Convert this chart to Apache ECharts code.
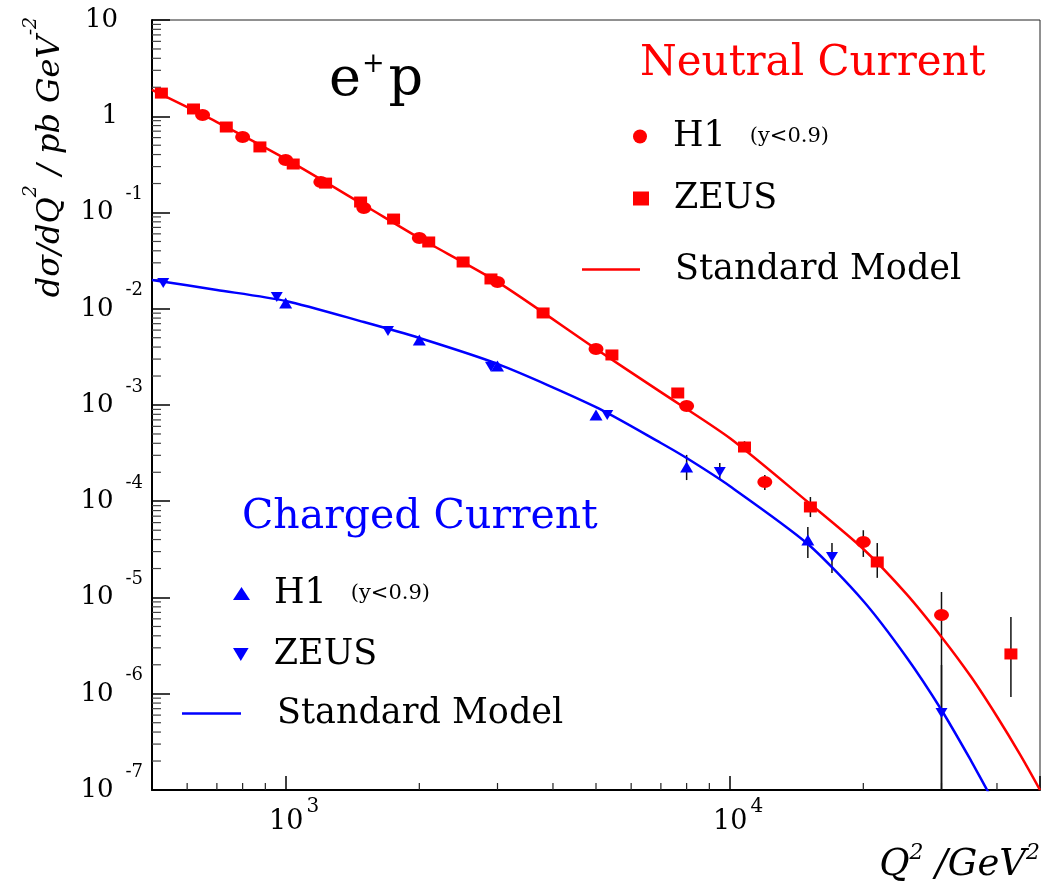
<!DOCTYPE html>
<html><head><meta charset="utf-8">
<script src="https://cdn.jsdelivr.net/npm/echarts@6/dist/echarts.min.js"></script>
<style>html,body{margin:0;padding:0;background:#fff}#chart{width:1044px;height:883px}</style>
</head><body><div id="chart"></div>
<script>
// ---------- axis ranges & tick labels ----------
const xMin = 500, xMax = 50000;
const yMin = 1e-7, yMax = 10;
const xTickExponents = [3, 4];
const yTickExponents = [1, 0, -1, -2, -3, -4, -5, -6, -7];

// ---------- Neutral Current (red) ----------
const ncH1Q2 = [650, 800, 1000, 1200, 1500, 2000, 3000, 5000, 8000, 12000, 20000, 30000];
const ncH1Val = [1.03, 0.609, 0.351, 0.2075, 0.1113, 0.0543, 0.01897, 0.00382, 9.77e-4, 1.585e-4, 3.77e-5, 6.58e-6];
const ncZeusQ2 = [525, 620, 735, 875, 1040, 1230, 1475, 1750, 2100, 2510, 2900, 3800, 5430, 7640, 10800, 15200, 21500, 43000];
const ncZeusVal = [1.74, 1.19, 0.773, 0.48, 0.319, 0.202, 0.1285, 0.0855, 0.0494, 0.0306, 0.0204, 0.00904, 0.00331, 0.001333, 3.66e-4, 8.72e-5, 2.34e-5, 2.59e-6];
const ncSmQ2 = [500, 700, 1000, 1500, 2000, 3000, 5000, 7000, 10000, 15000, 20000, 25000, 30000, 35000, 40000, 45000, 50000];
const ncSmVal = [1.874, 0.87, 0.360, 0.1197, 0.0543, 0.0190, 0.00382, 0.00136, 4.54e-4, 9.82e-5, 3.19e-5, 1.09e-5, 3.89e-6, 1.49e-6, 5.8e-7, 2.37e-7, 1.0e-7];
// error bars: [Q2, low, high]
const ncH1Err = [[12000, 1.31e-4, 1.87e-4], [20000, 2.64e-5, 5.0e-5], [30000, 1e-7, 1.14e-5]];
const ncZeusErr = [[10800, 3.25e-4, 4.2e-4], [15200, 6.85e-5, 1.107e-4], [21500, 1.6e-5, 3.68e-5], [43000, 9.25e-7, 6.27e-6]];

// ---------- Charged Current (blue) ----------
const ccH1Q2 = [1000, 2000, 3000, 5000, 8000, 15000];
const ccH1Val = [0.01148, 0.00473, 0.00254, 7.87e-4, 2.27e-4, 3.95e-5];
const ccZeusQ2 = [530, 955, 1700, 2900, 5300, 9500, 17000, 30000];
const ccZeusVal = [0.0185, 0.01325, 0.00588, 0.0025, 7.87e-4, 2.01e-4, 2.64e-5, 6.3e-7];
const ccSmQ2 = [500, 700, 1000, 1500, 2000, 3000, 5000, 7000, 8000, 10000, 15000, 20000, 25000, 30000, 35000, 38000, 42000];
const ccSmVal = [0.0199, 0.01567, 0.01205, 0.00728, 0.00497, 0.00267, 9.5e-4, 4.03e-4, 2.81e-4, 1.44e-4, 3.6e-5, 9.2e-6, 2.41e-6, 6.78e-7, 2.0e-7, 1.0e-7, 4.5e-8];
const ccH1Err = [[8000, 1.66e-4, 3.03e-4], [15000, 2.57e-5, 5.4e-5]];
const ccZeusErr = [[9500, 1.66e-4, 2.49e-4], [17000, 1.8e-5, 3.68e-5], [30000, 1e-7, 1.99e-6]];

// ---------- texts ----------
const legendText = {
  'NC H1': ['H1', '(y<0.9)'], 'NC ZEUS': ['ZEUS', ''], 'NC SM': ['Standard Model', ''],
  'CC H1': ['H1', '(y<0.9)'], 'CC ZEUS': ['ZEUS', ''], 'CC SM': ['Standard Model', '']
};

const RED = '#ff0000', BLUE = '#0000ff';
const SERIF = "'DejaVu Serif', serif";
const DOWN_TRI = 'path://M0,0 L12,0 L6,10 Z';

function zip(a, b) { return a.map((v, i) => [v, b[i]]); }
function isPow10(v) { const l = Math.log10(v); return Math.abs(l - Math.round(l)) < 1e-6; }

// minor tick values (2..9 x 10^k) inside the ranges
function minorTicks(lo, hi) {
  const out = [];
  for (let e = Math.floor(Math.log10(lo)); e <= Math.ceil(Math.log10(hi)); e++) {
    for (let k = 2; k <= 9; k++) { const v = k * Math.pow(10, e); if (v > lo * 1.0001 && v < hi * 0.9999) out.push(v); }
  }
  return out;
}
const xMinor = minorTicks(xMin, xMax);
const yMinor = minorTicks(yMin, yMax);

function errSeries(data) {
  return {
    type: 'custom', silent: true, z: 2, clip: true,
    encode: { x: 0, y: [1, 2] },
    data: data,
    renderItem: function (params, api) {
      const p1 = api.coord([api.value(0), api.value(1)]);
      const p2 = api.coord([api.value(0), api.value(2)]);
      return { type: 'line', shape: { x1: p1[0], y1: p1[1], x2: p2[0], y2: p2[1] }, style: { stroke: '#111', lineWidth: 1.5 } };
    }
  };
}

function legendAt(name, left, top, w, h, padLeft, icon) {
  const lg = {
    data: [name], left: left, top: top, orient: 'vertical', itemWidth: w, itemHeight: h,
    padding: 0, selectedMode: false,
    formatter: function (n) {
      const t = legendText[n];
      return '{n|' + t[0] + '}' + (t[1] ? '{c|' + t[1] + '}' : '');
    },
    textStyle: {
      fontFamily: SERIF, fontSize: 35, color: '#000',
      rich: {
        n: { fontFamily: SERIF, fontSize: 35, color: '#000', padding: [0, 0, 0, padLeft] },
        c: { fontFamily: SERIF, fontSize: 21, color: '#000', padding: [0, 0, 0, 24] }
      }
    }
  };
  if (icon) lg.icon = icon;
  return lg;
}

const chart = echarts.init(document.getElementById('chart'));
const option = {
  animation: false,
  backgroundColor: '#ffffff',
  grid: { left: 152, right: 4, top: 20, bottom: 93, show: true, borderColor: '#222', borderWidth: 1, backgroundColor: 'transparent' },
  title: [
    { text: 'Neutral Current', left: 640, top: 43, padding: 0,
      textStyle: { fontFamily: SERIF, fontSize: 42, fontWeight: 'normal', color: RED } },
    { text: 'Charged Current', left: 242, top: 497, padding: 0,
      textStyle: { fontFamily: SERIF, fontSize: 41, fontWeight: 'normal', color: BLUE } },
    { text: '{a|e}{s|+}{a|p}', left: 329, top: 51, padding: 0,
      textStyle: { fontFamily: SERIF, fontSize: 54, fontWeight: 'normal', color: '#000',
        rich: { a: { fontFamily: SERIF, fontSize: 54, color: '#000' },
                s: { fontFamily: SERIF, fontSize: 27, color: '#000', padding: [0, 4, 32, 1] } } } }
  ],
  legend: [
    legendAt('NC H1', 633, 119, 16, 14, 20),
    legendAt('NC ZEUS', 633, 181, 16, 14, 20),
    legendAt('NC SM', 582, 252, 58, 2.5, 30, 'rect'),
    legendAt('CC H1', 233, 576, 17, 13, 19),
    legendAt('CC ZEUS', 233, 637, 16, 13, 20),
    legendAt('CC SM', 182, 696, 59, 2.5, 31, 'rect')
  ],
  xAxis: {
    type: 'log', logBase: 10, min: xMin, max: xMax, splitNumber: 2,
    axisLine: { lineStyle: { color: '#000', width: 2 } },
    axisTick: { inside: true, length: 14, lineStyle: { color: '#000', width: 1.5 } },
    splitLine: { show: false },
    axisLabel: {
      margin: 4, interval: 0, color: '#000', verticalAlign: 'top',
      formatter: function (v) {
        if (!isPow10(v)) return '';
        const e = Math.round(Math.log10(v));
        if (xTickExponents.indexOf(e) < 0) return '';
        return '{b|10}{e|' + e + '}';
      },
      rich: {
        b: { fontFamily: SERIF, fontSize: 27, color: '#000', padding: [14, 0, 14, 17] },
        e: { fontFamily: SERIF, fontSize: 20, color: '#000', padding: [3, 0, 32, 3] }
      }
    }
  },
  yAxis: {
    type: 'log', logBase: 10, min: yMin, max: yMax, splitNumber: 8,
    axisLine: { lineStyle: { color: '#000', width: 2 } },
    axisTick: { inside: true, length: 18, lineStyle: { color: '#000', width: 1.5 } },
    splitLine: { show: false },
    axisLabel: {
      margin: 9, interval: 0, color: '#000',
      formatter: function (v) {
        if (!isPow10(v)) return '';
        const e = Math.round(Math.log10(v));
        if (yTickExponents.indexOf(e) < 0) return '';
        if (e === 1) return '{p|10}';
        if (e === 0) return '{p|1}';
        return '{b|10}{e|' + e + '}';
      },
      rich: {
        p: { fontFamily: SERIF, fontSize: 26, color: '#000', padding: [14, 25, 14, 0] },
        b: { fontFamily: SERIF, fontSize: 26, color: '#000', padding: [14, 0, 14, 0] },
        e: { fontFamily: SERIF, fontSize: 18, color: '#000', padding: [0, 0, 36, 12] }
      }
    }
  },
  graphic: [
    { type: 'text', x: 51, y: 157, rotation: Math.PI / 2, silent: true,
      style: { text: '{a|dσ/dQ}{s|2}{a| / pb GeV}{s|-2}', align: 'center', verticalAlign: 'middle',
        rich: { a: { fontFamily: SERIF, fontStyle: 'italic', fontSize: 32, fill: '#000' },
                s: { fontFamily: SERIF, fontStyle: 'italic', fontSize: 19, fill: '#000', padding: [0, 0, 40, 0] } } } },
    { type: 'text', x: 1040, y: 865, silent: true,
      style: { text: '{a|Q}{s|2}{a| /GeV}{s|2}', align: 'right', verticalAlign: 'middle',
        rich: { a: { fontFamily: SERIF, fontStyle: 'italic', fontSize: 37, fill: '#000' },
                s: { fontFamily: SERIF, fontStyle: 'italic', fontSize: 22, fill: '#000', padding: [0, 0, 24, 0] } } } }
  ],
  series: [
    // minor ticks along the axes
    { type: 'custom', silent: true, z: 1, clip: false, data: xMinor.map(v => [v, yMin]),
      renderItem: function (params, api) {
        const p = api.coord([api.value(0), api.value(1)]);
        return { type: 'line', shape: { x1: p[0], y1: p[1], x2: p[0], y2: p[1] - 7 }, style: { stroke: '#222', lineWidth: 1.2 } };
      } },
    { type: 'custom', silent: true, z: 1, clip: false, data: yMinor.map(v => [xMin, v]),
      renderItem: function (params, api) {
        const p = api.coord([api.value(0), api.value(1)]);
        return { type: 'line', shape: { x1: p[0], y1: p[1], x2: p[0] + 9, y2: p[1] }, style: { stroke: '#444', lineWidth: 1.2 } };
      } },
    // Standard Model curves
    { name: 'NC SM', type: 'line', data: zip(ncSmQ2, ncSmVal), smooth: 0.25, symbol: 'none', showSymbol: false, clip: true, z: 3,
      lineStyle: { color: RED, width: 2.5 }, itemStyle: { color: RED } },
    { name: 'CC SM', type: 'line', data: zip(ccSmQ2, ccSmVal), smooth: 0.25, symbol: 'none', showSymbol: false, clip: true, z: 3,
      lineStyle: { color: BLUE, width: 2.5 }, itemStyle: { color: BLUE } },
    // error bars
    errSeries(ncH1Err), errSeries(ncZeusErr), errSeries(ccH1Err), errSeries(ccZeusErr),
    // data points
    { name: 'NC H1', type: 'scatter', data: zip(ncH1Q2, ncH1Val), symbol: 'circle', symbolSize: [15, 12], z: 5, itemStyle: { color: RED, opacity: 1 } },
    { name: 'NC ZEUS', type: 'scatter', data: zip(ncZeusQ2, ncZeusVal), symbol: 'rect', symbolSize: [13, 11], z: 5, itemStyle: { color: RED, opacity: 1 } },
    { name: 'CC H1', type: 'scatter', data: zip(ccH1Q2, ccH1Val), symbol: 'triangle', symbolSize: [13, 11], z: 5, itemStyle: { color: BLUE, opacity: 1 } },
    { name: 'CC ZEUS', type: 'scatter', data: zip(ccZeusQ2, ccZeusVal), symbol: DOWN_TRI, symbolSize: [12, 10], z: 5, itemStyle: { color: BLUE, opacity: 1 } }
  ]
};
chart.setOption(option);
</script>
</body></html>
